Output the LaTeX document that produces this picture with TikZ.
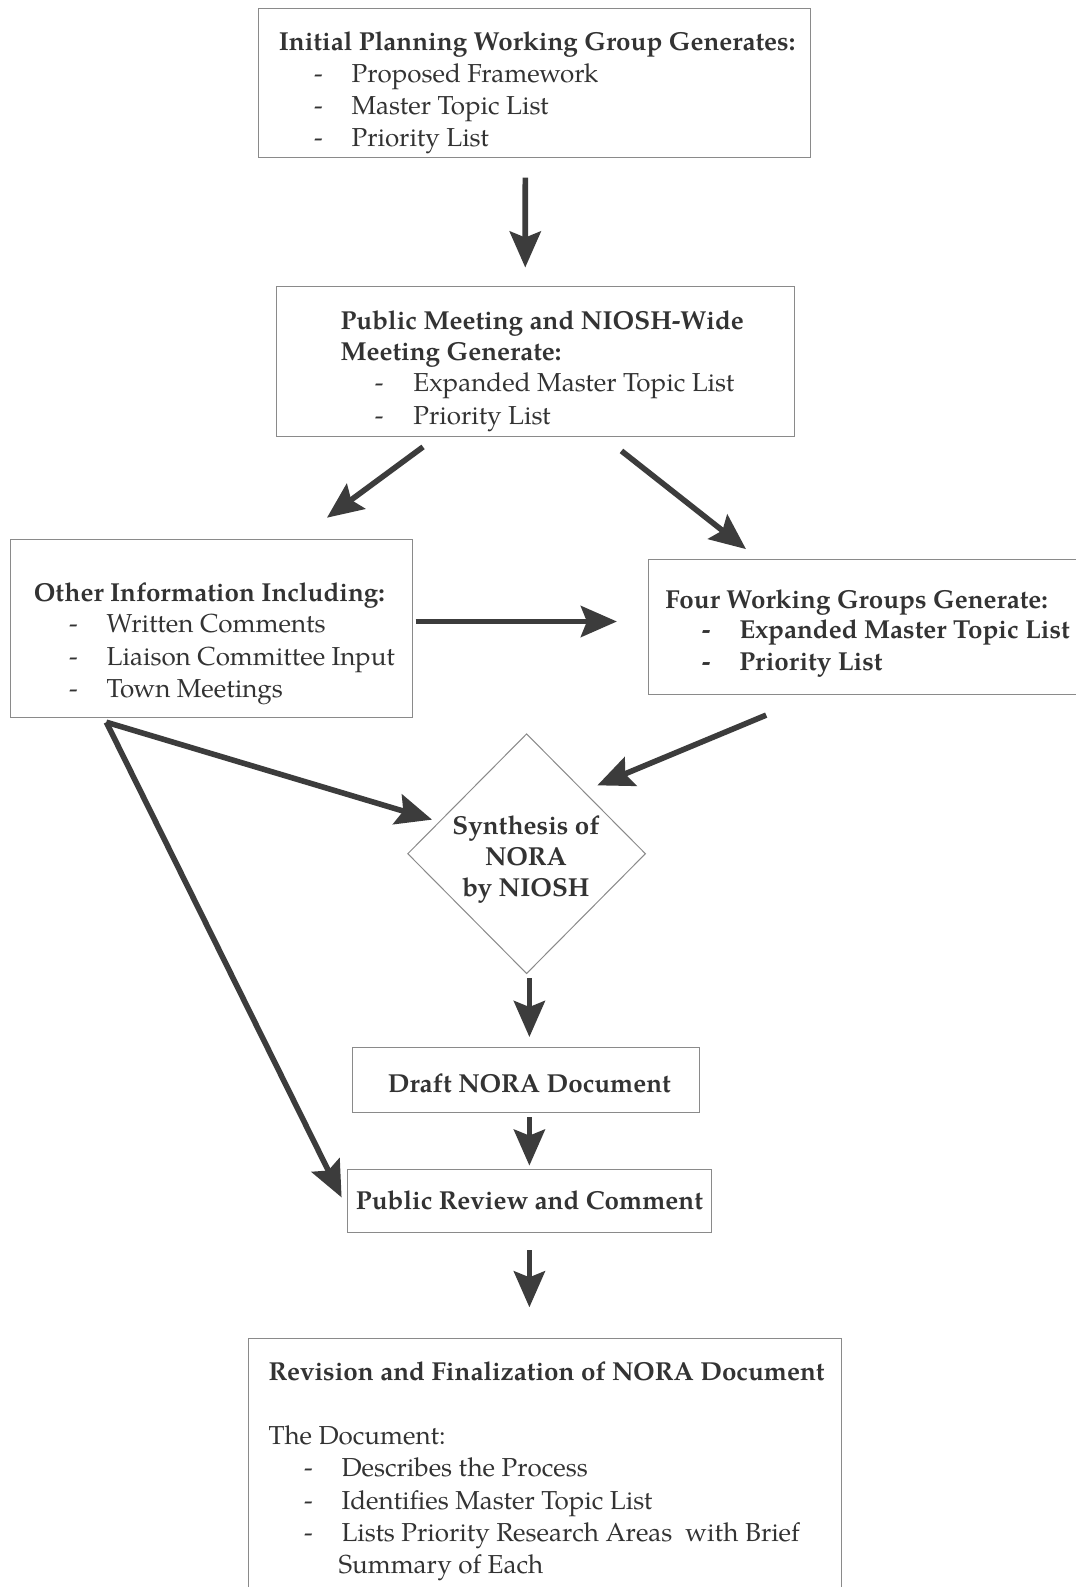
\documentclass[tikz,border=0pt]{standalone}
\usepackage{fontspec}
\setmainfont{TeX Gyre Pagella}
\usetikzlibrary{arrows.meta,fit,shapes.geometric,calc}
\definecolor{ink}{HTML}{333333}
\definecolor{arrc}{HTML}{3c3c3c}
\definecolor{boxc}{HTML}{8a8a8a}
\begin{document}
\begin{tikzpicture}[x=0.5pt,y=-0.5pt,
  box/.style={draw=boxc,line width=0.5pt,inner sep=0pt},
  txt/.style={inner sep=0pt,anchor=mid west,yshift=-2.25pt,text=ink,font=\fontsize{13}{16}\selectfont},
  btxt/.style={txt,font=\fontsize{13}{16}\selectfont\bfseries},
  arr/.style={draw=arrc,line width=2.8pt,-{Stealth[length=18pt,width=15.5pt,inset=3pt]}}]
\clip (0,0) rectangle (1076,1587);
\fill[white] (0,0) rectangle (1076,1587);

% boxes
\node[box,fit={(258,8)(810,157)}] (plan) {};
\node[box,fit={(276.3,286.5)(794.6,436.3)}] (meet) {};
\node[box,fit={(10.1,539.5)(412,717.7)}] (other) {};
\node[box,fit={(648.8,559.7)(1090,694.4)}] (four) {};
\node[draw=boxc,line width=0.5pt,diamond,inner sep=0pt,minimum width=119pt,minimum height=120pt] (syn) at (526.6,853.7) {};
\node[box,fit={(352.2,1047.6)(699.4,1112.4)}] (draft) {};
\node[box,fit={(347.2,1169.1)(711.6,1232.9)}] (review) {};
\node[box,fit={(248,1338.1)(841.1,1620)}] (rev) {};

% plan text
\node[btxt] (p0) at (278.4,41.5) {Initial Planning Working Group Generates:};
\node[txt] (p1d) at (313.8,72.9) {-};
\node[txt] (p1) at (351.2,72.9) {Proposed Framework};
\node[txt] (p2d) at (313.8,105.3) {-};
\node[txt] (p2) at (351.2,105.3) {Master Topic List};
\node[txt] (p3d) at (313.8,137.7) {-};
\node[txt] (p3) at (351.2,137.7) {Priority List};

% meeting text
\node[btxt] (m0) at (340.1,319.9) {Public Meeting and NIOSH-Wide};
\node[btxt] (m0b) at (340.1,351.2) {Meeting Generate:};
\node[txt] (m1d) at (374.5,382.6) {-};
\node[txt] (m1) at (413,382.6) {Expanded Master Topic List};
\node[txt] (m2d) at (374.5,415) {-};
\node[txt] (m2) at (413,415) {Priority List};

% other text
\node[btxt] (o0) at (33.4,592.1) {Other Information Including:};
\node[txt] (o1d) at (68.8,623.5) {-};
\node[txt] (o1) at (106.3,623.5) {Written Comments};
\node[txt] (o2d) at (68.8,655.9) {-};
\node[txt] (o2) at (106.3,655.9) {Liaison Committee Input};
\node[txt] (o3d) at (68.8,688.3) {-};
\node[txt] (o3) at (106.3,688.3) {Town Meetings};

% four text
\node[btxt] (f0) at (665,599.2) {Four Working Groups Generate:};
\node[btxt] (f1d) at (701.5,629.6) {-};
\node[btxt] (f1) at (738.9,629.6) {Expanded Master Topic List};
\node[btxt] (f2d) at (701.5,661) {-};
\node[btxt] (f2) at (738.9,661) {Priority List};

% diamond text
\node[inner sep=0pt,text=ink,align=center,yshift=-2.25pt,font=\fontsize{13}{15.6}\selectfont\bfseries] (syntxt) at (526,855) {Synthesis of\\NORA\\by NIOSH};

% draft / review
\node[btxt,anchor=mid] (dtxt) at (529.4,1083.1) {Draft NORA Document};
\node[btxt,anchor=mid] (rtxt) at (529.4,1200.5) {Public Review and Comment};

% revision text
\node[btxt] (r0) at (268.2,1371.5) {Revision and Finalization of NORA Document};
\node[txt] (r1) at (268.2,1435.3) {The Document:};
\node[txt] (r2d) at (303.7,1467.7) {-};
\node[txt] (r2) at (341.1,1467.7) {Describes the Process};
\node[txt] (r3d) at (303.7,1500.1) {-};
\node[txt] (r3) at (341.1,1500.1) {Identifies Master Topic List};
\node[txt] (r4d) at (303.7,1532.5) {-};
\node[txt] (r4) at (341.1,1532.5) {Lists Priority Research Areas\ \ with Brief};
\node[txt] (r5) at (338.1,1563.9) {Summary of Each};

% arrows
\draw[arr] ($(plan.south)+(-8.7,20)$) -- ($(meet.north)+(-10.2,-18.5)$);
\draw[arr] ($(meet.south)+(-112.4,10.1)$) -- ($(other.north)+(115.9,-21.3)$);
\draw[arr] ($(meet.south)+(86,14.1)$) -- ($(four.north)+(-123.4,-10.1)$);
\draw[arr] ($(other.east)+(3,-7.1)$) -- ($(four.west)+(-31.4,-5.55)$);
\draw[arr] ($(four.south)+(-103.2,20.2)$) -- ($(syn.north east)+(11,-8.1)$);
\draw[arr] ($(other.south)+(-104.7,4)$) -- ($(syn.north west)+(-34.8,26.2)$);
\draw[arr] ($(other.south)+(-104.7,4)$) -- ($(review.west)+(-5.1,-3.6)$);
\draw[arr] ($(syn.south)+(2.8,4.1)$) -- ($(draft.north)+(3.6,-10.1)$);
\draw[arr] ($(draft.south)+(3.6,4.1)$) -- ($(review.north)+(0,-3)$);
\draw[arr] ($(review.south)+(0,17)$) -- ($(rev.north)+(-15.15,-30.3)$);
\end{tikzpicture}
\end{document}
